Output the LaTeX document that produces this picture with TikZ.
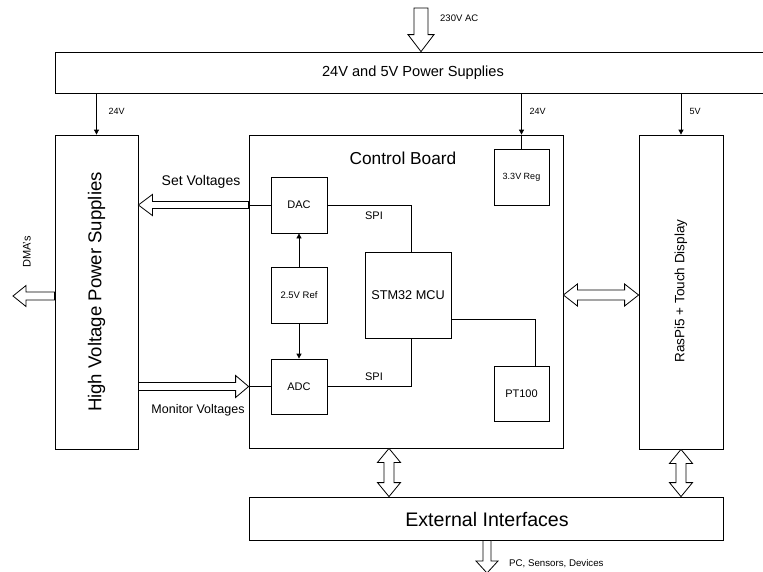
\documentclass[tikz,border=0pt]{standalone}
\usepackage{fontspec}
\setmainfont{Liberation Sans}
\usetikzlibrary{calc,arrows.meta}
\newcommand\fsz[1]{\fontsize{#1}{#1}\selectfont}
% single hollow arrow: {shaft half}{head half}{head length}{from}{to}
\newcommand\hollowone[5]{%
  \coordinate (hb) at ($(#5)!#3!(#4)$);
  \draw[hollow] ($(#4)!#1!90:(#5)$) -- ($(hb)!#1!90:(#5)$) -- ($(hb)!#2!90:(#5)$) -- (#5)
    -- ($(hb)!#2!-90:(#5)$) -- ($(hb)!#1!-90:(#5)$) -- ($(#4)!#1!-90:(#5)$) -- cycle;}
% double hollow arrow
\newcommand\hollowtwo[5]{%
  \coordinate (ha) at ($(#4)!#3!(#5)$);
  \coordinate (hb) at ($(#5)!#3!(#4)$);
  \draw[hollow] (#4) -- ($(ha)!#2!90:(#5)$) -- ($(ha)!#1!90:(#5)$) -- ($(hb)!#1!90:(#5)$)
    -- ($(hb)!#2!90:(#5)$) -- (#5) -- ($(hb)!#2!-90:(#5)$) -- ($(hb)!#1!-90:(#5)$)
    -- ($(ha)!#1!-90:(#5)$) -- ($(ha)!#2!-90:(#5)$) -- cycle;}
\tikzset{
  box/.style={draw, line width=0.8pt, inner sep=0pt, align=center},
  hollow/.style={draw, fill=white, line width=0.8pt, line join=miter},
  wire/.style={line width=0.8pt},
  feed/.style={line width=0.8pt, -{Triangle[length=5pt,width=5pt]}},
  lbl/.style={inner sep=0pt},
}
\begin{document}
\begin{tikzpicture}[x=1pt,y=-1pt]
\useasboundingbox (0,0) rectangle (763,571);
% boxes
\node[box, minimum width=711pt, minimum height=41pt, font=\fsz{14.6}] (top) at (410.5,72.5) {};
\node[lbl, font=\fsz{14.6}] (topt) at (413,73) {24V and 5V Power Supplies};
\node[box, minimum width=83pt, minimum height=314pt] (hv) at (96.5,292) {};
\node[lbl, rotate=90, font=\fsz{18.6}] (hvt) at (hv.center) {High Voltage Power Supplies};
\node[box, minimum width=314pt, minimum height=313pt] (cb) at (406,291.5) {};
\node[lbl, font=\fsz{17.3}] (cbt) at (403,158) {Control Board};
\node[box, minimum width=55pt, minimum height=56pt, font=\fsz{9}] (reg) at (521.5,177) {3.3V Reg};
\node[box, minimum width=56pt, minimum height=56pt, font=\fsz{11}] (dac) at (299,205) {DAC};
\node[box, minimum width=56pt, minimum height=56pt, font=\fsz{9.5}] (ref) at (299,295) {2.5V Ref};
\node[box, minimum width=56pt, minimum height=55pt, font=\fsz{11}] (adc) at (299,386.5) {ADC};
\node[box, minimum width=86pt, minimum height=86pt, font=\fsz{12.7}] (mcu) at (408,295) {STM32 MCU};
\node[box, minimum width=55pt, minimum height=55pt, font=\fsz{11}] (pt) at (521.5,393.5) {PT100};
\node[box, minimum width=84pt, minimum height=314pt] (rpi) at (681,292) {};
\node[lbl, rotate=90, font=\fsz{13.5}] (rpit) at (681,291) {RasPi5 + Touch Display};
\node[box, minimum width=474pt, minimum height=43pt] (ext) at (486,518.5) {};
\node[lbl, font=\fsz{19.6}] (extt) at (487,519) {External Interfaces};

% supply feeds
\draw[feed] (hv.north |- top.south) -- (hv.north);
\draw[feed] (reg.north |- top.south) -- (reg.north |- cb.north);
\draw[wire] (reg.north |- cb.north) -- (reg.north);
\draw[feed] (rpi.north |- top.south) -- (rpi.north);
\node[lbl, anchor=west, font=\fsz{9}] (l24a) at (108.5,111) {24V};
\node[lbl, anchor=west, font=\fsz{9}] (l24b) at (529.5,111) {24V};
\node[lbl, anchor=west, font=\fsz{9}] (l5) at (689.5,111) {5V};

% 230V AC input
\coordinate (acin) at (421,8);
\hollowone{7pt}{13pt}{17pt}{acin}{top.north -| acin}
\node[lbl, anchor=west, font=\fsz{9.5}] (lac) at (440,18) {230V AC};

% inside control board
\draw[wire] (dac.east) -| ($(mcu.north)+(3,0)$);
\draw[wire] (adc.east) -| ($(mcu.south)+(3,0)$);
\draw[wire] ($(mcu.south east)+(0,-19)$) -| ($(pt.north)+(13.5,0)$);
\draw[feed] (ref.north) -- (dac.south);
\draw[feed] (ref.south) -- (adc.north);
\node[lbl, font=\fsz{11}] (spi1) at (374,216) {SPI};
\node[lbl, font=\fsz{11}] (spi2) at (374,377) {SPI};

% set / monitor voltages
\draw[wire] (dac.west) -- (cb.west |- dac.west);
\hollowone{3.5pt}{10.5pt}{14pt}{cb.west |- dac.west}{hv.east |- dac.west}
\node[lbl, font=\fsz{14}] (lset) at (201,182) {Set Voltages};
\hollowone{4pt}{11pt}{13pt}{hv.east |- adc.west}{cb.west |- adc.west}
\draw[wire] (cb.west |- adc.west) -- (adc.west);
\node[lbl, font=\fsz{12.5}] (lmon) at (198,410) {Monitor Voltages};

% DMA's
\coordinate (dmatip) at (13,296);
\hollowone{4pt}{10.5pt}{13pt}{hv.west |- dmatip}{dmatip}
\node[lbl, rotate=90, font=\fsz{11}] (ldma) at (27,252) {DMA's};

% control board <-> RasPi
\hollowtwo{5pt}{11pt}{14pt}{cb.east |- mcu.center}{rpi.west |- mcu.center}
% to external interfaces
\coordinate (cbx) at (389,448);
\hollowtwo{5pt}{11.5pt}{14pt}{cb.south -| cbx}{ext.north -| cbx}
\hollowtwo{5pt}{11.5pt}{14pt}{rpi.south}{rpi.south |- ext.north}
% external outputs
\coordinate (pcx) at (487,573);
\hollowone{4pt}{11pt}{12pt}{ext.south -| pcx}{pcx}
\node[lbl, anchor=west, font=\fsz{9.7}] (lpc) at (509,564) {PC, Sensors, Devices};
\end{tikzpicture}
\end{document}
